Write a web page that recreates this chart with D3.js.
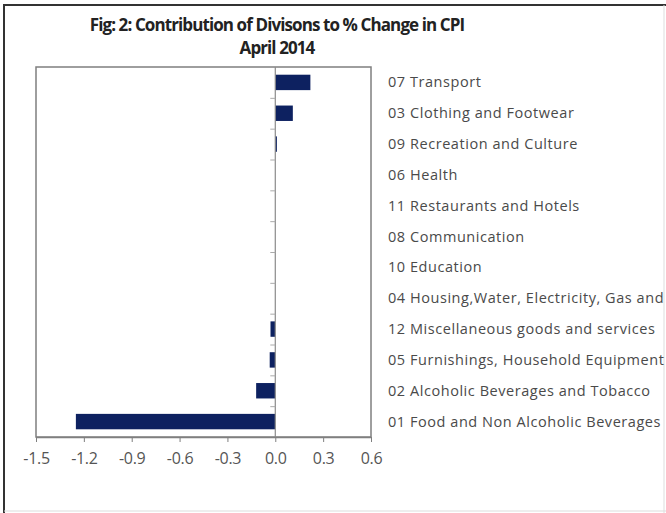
<!DOCTYPE html>
<html><head><meta charset="utf-8">
<script src="https://cdn.jsdelivr.net/npm/d3@7"></script>
<style>body{margin:0;background:#fff}svg{display:block}</style>
</head><body>
<svg id="c" width="666" height="513"></svg>
<script>
const categories = [
  "07 Transport",
  "03 Clothing and Footwear",
  "09 Recreation and Culture",
  "06 Health",
  "11 Restaurants and Hotels",
  "08 Communication",
  "10 Education",
  "04 Housing,Water, Electricity, Gas and",
  "12 Miscellaneous goods and services",
  "05 Furnishings, Household Equipment",
  "02 Alcoholic Beverages and Tobacco",
  "01 Food and Non Alcoholic Beverages"
];
const values = [0.22, 0.11, 0.01, 0.0, 0.0, 0.0, 0.0, 0.0, -0.03, -0.035, -0.12, -1.25];
const xTicks = [-1.5, -1.2, -0.9, -0.6, -0.3, 0.0, 0.3, 0.6];
const titleLines = ["Fig: 2: Contribution of Divisons to % Change in CPI", "April 2014"];

const svg = d3.select("#c");
const font = "'Open Sans', sans-serif";

// outer border
svg.append("line").attr("x1", 3).attr("x2", 666).attr("y1", 5).attr("y2", 5).attr("stroke", "#333").attr("stroke-width", 2);
svg.append("line").attr("x1", 4).attr("x2", 4).attr("y1", 4).attr("y2", 513).attr("stroke", "#333").attr("stroke-width", 2);
svg.append("line").attr("x1", 664).attr("x2", 664).attr("y1", 5).attr("y2", 513).attr("stroke", "#ddd").attr("stroke-width", 1);
svg.append("line").attr("x1", 4).attr("x2", 666).attr("y1", 511).attr("y2", 511).attr("stroke", "#ddd").attr("stroke-width", 1);

const L = 36, R = 371, T = 67, B = 437;
const x = d3.scaleLinear().domain([-1.5, 0.6]).range([L, R]);
const y = d3.scaleBand().domain(categories).range([T, B]).paddingInner(0.5).paddingOuter(0.25);
const yb = d3.scaleBand().domain(categories).range([T, B]);

// plot area border
svg.append("rect").attr("x", L).attr("y", T).attr("width", R - L).attr("height", B - T)
  .attr("fill", "#fff").attr("stroke", "#7f7f7f").attr("stroke-width", 1.5);

// bars
svg.append("g").selectAll("rect").data(values).join("rect")
  .attr("x", d => x(Math.min(0, d)))
  .attr("y", (d, i) => y(categories[i]))
  .attr("width", d => Math.abs(x(d) - x(0)))
  .attr("height", y.bandwidth())
  .attr("fill", "#0d2160");

// zero axis line with category ticks
const zx = x(0);
svg.append("line").attr("x1", zx).attr("x2", zx).attr("y1", T).attr("y2", B)
  .attr("stroke", "#8a8a8a").attr("stroke-width", 1.2);
svg.append("g").selectAll("line").data(categories.slice(1)).join("line")
  .attr("x1", zx - 5).attr("x2", zx).attr("y1", d => yb(d) + 0.5).attr("y2", d => yb(d) + 0.5)
  .attr("stroke", "#aaa").attr("stroke-width", 1);

// x axis
const fmt = d3.format(".1f");
const xa = svg.append("g").attr("transform", `translate(0,${B})`)
  .call(d3.axisBottom(x).tickValues(xTicks).tickFormat(d => fmt(d).replace("\u2212", "-")).tickSize(5).tickSizeOuter(0));
xa.select(".domain").attr("stroke", "#7f7f7f").attr("stroke-width", 1.5);
xa.selectAll(".tick line").attr("stroke", "#7f7f7f");
xa.selectAll(".tick text").attr("font-family", font).attr("font-size", 16).attr("fill", "#555")
  .attr("dy", "1.2em").attr("letter-spacing", "-0.3");

// category labels on right
svg.append("g").selectAll("text").data(categories).join("text")
  .attr("x", 388).attr("y", d => yb(d) + yb.bandwidth() / 2)
  .attr("dy", "0.35em")
  .attr("font-family", font).attr("font-size", 14.5).attr("fill", "#4a4a4a")
  .attr("letter-spacing", "0.55")
  .text(d => d);

// title
svg.append("g").selectAll("text").data(titleLines).join("text")
  .attr("x", 277).attr("y", (d, i) => 31 + i * 23)
  .attr("text-anchor", "middle")
  .attr("font-family", font).attr("font-weight", "bold").attr("font-size", 17).attr("fill", "#222")
  .attr("letter-spacing", "-0.9")
  .text(d => d);
</script>
</body></html>
